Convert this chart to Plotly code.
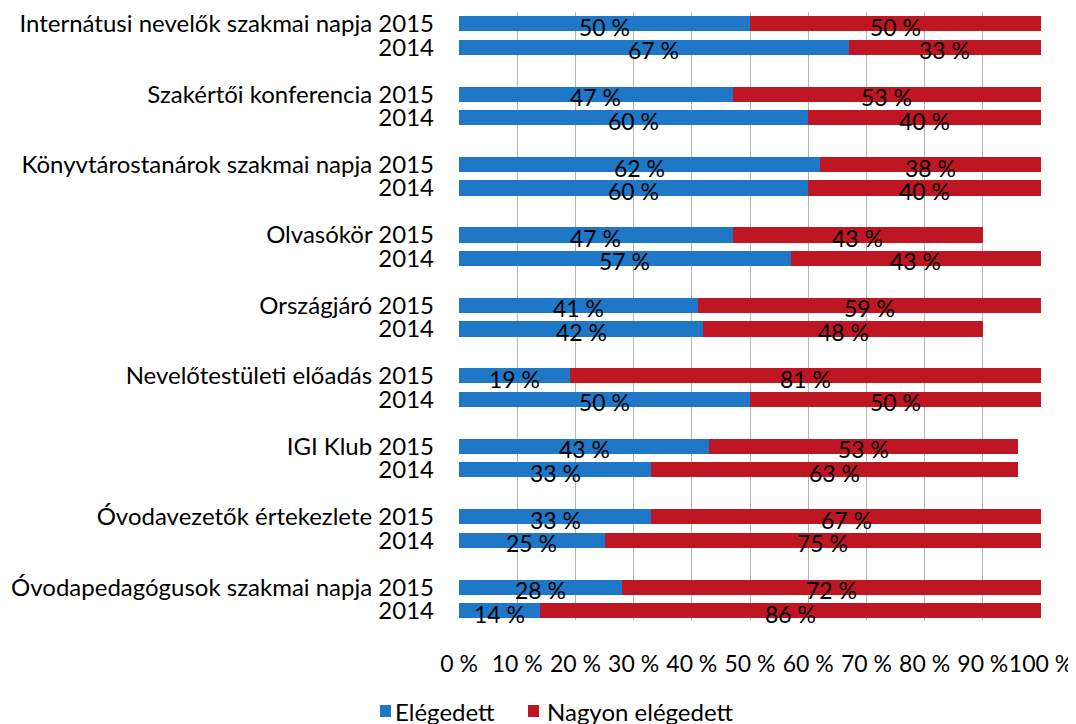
import plotly.graph_objects as go

categories = [
    "Internátusi nevelők szakmai napja",
    "Szakértői konferencia",
    "Könyvtárostanárok szakmai napja",
    "Olvasókör",
    "Országjáró",
    "Nevelőtestületi előadás",
    "IGI Klub",
    "Óvodavezetők értekezlete",
    "Óvodapedagógusok szakmai napja",
]
years = ["2015", "2014"]
elegedett_2015 = [50, 47, 62, 47, 41, 19, 43, 33, 28]
elegedett_2014 = [67, 60, 60, 57, 42, 50, 33, 25, 14]
nagyon_2015 = [50, 53, 38, 43, 59, 81, 53, 67, 72]
nagyon_2014 = [33, 40, 40, 43, 48, 50, 63, 75, 86]
x_ticks = [0, 10, 20, 30, 40, 50, 60, 70, 80, 90, 100]
series_names = ["Elégedett", "Nagyon elégedett"]

BLUE = "#1F77C8"
RED = "#BE1622"
FONT = "Lato"

# Build rows: each category gets 3 slots (2015, 2014, gap)
ys, ticktext, blue, red = [], [], [], []
for i, cat in enumerate(categories):
    ys.append(-3 * i)
    ticktext.append(f"{cat} {years[0]}")
    blue.append(elegedett_2015[i])
    red.append(nagyon_2015[i])
    ys.append(-3 * i - 1)
    ticktext.append(years[1])
    blue.append(elegedett_2014[i])
    red.append(nagyon_2014[i])

fig = go.Figure()
fig.add_trace(go.Bar(y=ys, x=blue, orientation="h", name=series_names[0],
                     marker=dict(color=BLUE, line=dict(width=0)), width=0.65,
                     hoverinfo="x", showlegend=False))
fig.add_trace(go.Bar(y=ys, x=red, orientation="h", name=series_names[1],
                     marker=dict(color=RED, line=dict(width=0)), width=0.65,
                     hoverinfo="x", showlegend=False))

label_font = dict(family=FONT, size=23, color="black")
annotations = []
for y, b, r in zip(ys, blue, red):
    annotations.append(dict(x=b / 2, y=y, text=f"{b} %", showarrow=False, yshift=-3,
                            font=label_font, xref="x", yref="y"))
    annotations.append(dict(x=b + r / 2, y=y, text=f"{r} %", showarrow=False, yshift=-3,
                            font=label_font, xref="x", yref="y"))

# legend drawn as coloured squares + text entries
legend_sq_x = [-0.1357, 0.1186]
legend_txt_x = [-0.1134, 0.1478]
shapes = []
for name, color, sx, tx in zip(series_names, [BLUE, RED], legend_sq_x, legend_txt_x):
    shapes.append(dict(type="rect", xref="paper", yref="paper",
                       x0=sx, x1=sx + 0.0189, y0=-0.1595, y1=-0.1398,
                       fillcolor=color, line=dict(width=0)))
    annotations.append(dict(
        x=tx, y=-0.151, xref="paper", yref="paper", xanchor="left", yanchor="middle",
        showarrow=False, text=name,
        font=dict(family=FONT, size=24, color="black")))

fig.update_layout(
    width=1076, height=724,
    barmode="stack",
    paper_bgcolor="white", plot_bgcolor="white",
    margin=dict(l=451, r=43, t=4, b=112),
    font=dict(family=FONT, size=24, color="black"),
    annotations=annotations,
    shapes=shapes,
    showlegend=False,
    xaxis=dict(range=[0, 100], tickvals=x_ticks, ticktext=[f"{v} %" for v in x_ticks],
               showgrid=True, gridcolor="#B5B5B5", gridwidth=1, zeroline=False,
               showline=False, ticks="", ticklabelstandoff=28, automargin=False,
               tickangle=0,
               tickfont=dict(family=FONT, size=23, color="black")),
    yaxis=dict(range=[-25.4, 0.5], tickvals=ys, ticktext=ticktext, showgrid=False,
               zeroline=False, showline=False, ticks="", ticklabelstandoff=24,
               automargin=False,
               tickfont=dict(family=FONT, size=24, color="black")),
)

fig.write_html("out.html")
